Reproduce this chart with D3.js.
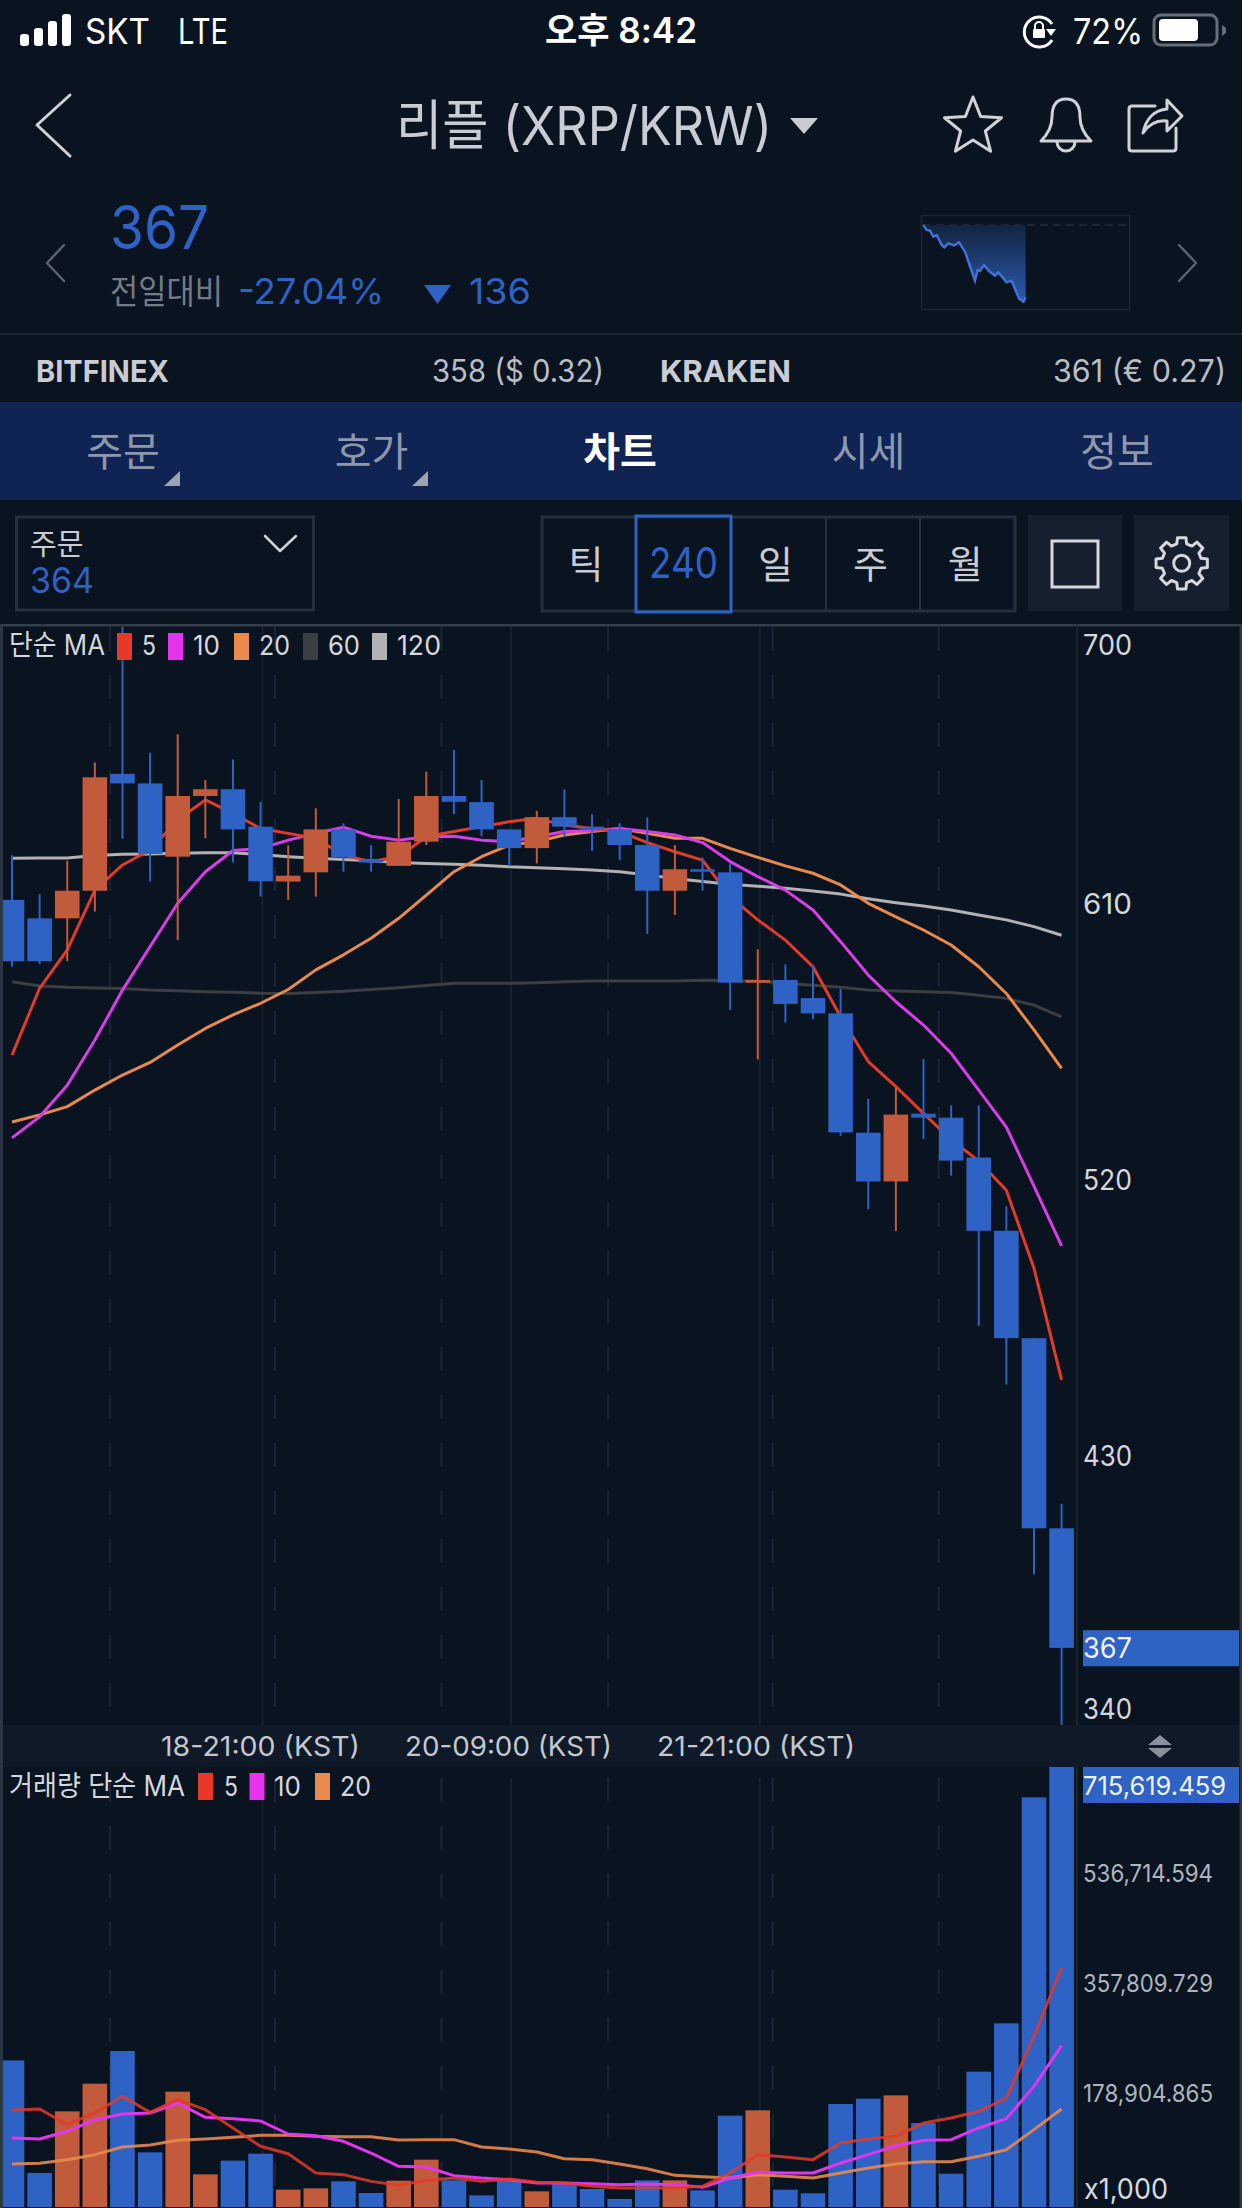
<!DOCTYPE html>
<html><head><meta charset="utf-8">
<script src="https://cdn.jsdelivr.net/npm/d3@7"></script>
<style>html,body{margin:0;padding:0;background:#0a1320}svg{display:block}
text{font-family:Inter,"Noto Sans CJK KR",sans-serif}</style></head>
<body><svg id="c" width="1242" height="2208"></svg>
<script>
// ---- data ----
const priceOpen=[611,605,605,614,652.1,649,625.1,644.9,647.1,634.9,617,620,634,624.2,622.1,630,644.9,642.9,634,627.9,638,634.9,634,628.9,614,621,620,584,584.9,579,574,535.1,519.2,541.3,540,527,503.1,468.1,406.1];
const priceHigh=[625.6,612.9,623.8,655.8,700.1,659,665,650.1,656.8,643,628.8,640.9,636,628.9,643.9,652.8,659.9,650.1,634,640,647.1,638.9,636,637.9,628.9,624.8,622.9,594.9,590,589.8,582,546.1,549.7,559.1,544,544,511.1,468.1,414.1];
const priceLow=[589.2,590.1,591,607.2,630.9,617,597.9,631.1,623.2,612.1,611,612.1,620.2,620.2,622.1,628.9,639,631.8,622.1,622.9,631.6,627,624,599.9,606.1,614,575.1,559,571,572.1,534.1,510.1,503,533,521.1,472.1,453,391.1,342];
const priceClose=[591,591,614,651,649,626,644.9,647.1,634,617.1,618.9,634,624.9,623.2,630,644.9,643,634,627.9,638,634.9,634,628.9,614,621,620.2,584,584.9,577.1,574,535.2,519.2,541,540,526,503.1,468.1,406.1,367.1];
const ma5=[560.4,582.2,594.7,614.2,622.4,627.3,637.1,643.6,639.2,634.3,632.7,631.1,625.6,623.5,625.1,631.6,633.3,634.9,636.5,637.6,635.4,634.3,633.3,629.7,626.7,624,612.1,604.5,597.9,589.2,572.9,558.3,550.1,541.4,532.8,525.9,516.3,490.9,454.5];
const ma10=[533.4,540.3,550.6,565.3,581.6,595.8,609.9,620.2,627.1,627.8,630.5,632.7,634.7,631.8,630.5,631.6,631.8,630.5,630,631.6,633.3,633.6,634.3,633.3,632.2,629.7,623.5,618.6,614.2,607.7,597.4,586.5,577.8,570.2,561,549,536.9,517.7,498.2];
const ma20=[538.6,540.9,543.6,549,553.9,558,563.7,569.1,573.5,577.3,581.8,588.2,593.1,598.5,605,612.6,620.2,625.1,628.9,630,632.2,633.3,634.3,632.7,631.1,631.1,627.8,624.9,622.1,619.7,615.9,609.9,605.5,601.2,596.3,589.2,580.5,568.6,556.1];
const ma60=[584.3,582.9,582.5,582.3,582.1,581.6,581.4,581.1,580.9,580.6,580.5,580.8,581.2,581.8,582.4,583.1,583.8,583.8,583.8,584,584.3,584.6,584.6,584.6,584.6,584.8,584.7,584.5,583.8,583.2,582.5,581.6,581.3,581.1,580.8,579.9,578.9,576.7,572.9];
const ma120=[624.6,624.7,624.7,625.5,625.9,626,626.2,626.4,626.4,625.8,625.1,624.6,624.2,623.8,623.2,622.9,622.6,622.3,621.8,621.5,621.2,620.8,620.2,619.1,618,617,616.1,615.5,614.8,613.9,612.9,611.4,610.1,609,607.7,606.1,604.5,602.3,599.5];
const volume=[238524,55294,155583,200577,253703,88904,187567,53126,75352,86736,28189,30358,41742,22768,42826,76978,43368,18974,43368,25479,39031,29273,13010,43368,43368,27105,148535,157209,28189,22226,167509,176183,181604,136609,54210,220093,298697,666241,715619];
const volMa5=[157200,159400,133900,152900,180000,154000,174600,158300,128500,98700,86700,55300,52600,41700,35200,43400,47200,41700,45500,40100,39000,33600,30900,30900,30900,33600,55300,85100,81300,77000,104100,110600,114900,136600,144700,155600,177300,277600,388700];
const volMa10=[112200,110600,123100,142000,151200,152900,169100,145800,143700,139900,118700,116000,106800,87800,66100,65100,51000,47200,44500,39000,39000,37900,36300,37400,36300,32000,47200,56400,55300,55300,71600,85100,99700,108400,109500,128500,143700,196200,262400];
const volMa20=[69900,71000,77000,85100,97600,100800,108400,110600,113300,116600,116600,114900,114400,114400,109000,109500,109500,97600,94300,89400,78600,77000,69900,62300,51500,49300,47200,52600,49900,47200,55300,63400,69900,73700,73700,82400,93200,125800,159400];
const priceTicks=[700,610,520,430,340];
const volTicks=[715619.459,536714.594,357809.729,178904.865,0];
const timeLabels=["18-21:00 (KST)","20-09:00 (KST)","21-21:00 (KST)"];
const miniHours=[0,.39,.78,1.17,1.56,2.15,2.46,2.93,3.63,4.18,4.88,6.05,6.36,6.63,7.1,7.69,8.39,8.78,9.76,10.34,11.2,11.71,11.98];
const miniPct=[0,-1.76,-2,-4.11,-3.53,-7.05,-7.88,-6.47,-7.17,-6.11,-9.41,-19.63,-15.87,-16.22,-14.11,-16.22,-17.87,-16.7,-20.22,-19.63,-25.87,-27.04,-25.51];
const solidGrid=[9.07,18.07,27.07];
const dashGrid=[3.55,9.52,15.55,21.58,27.54,33.55];
const tabs=["주문","호가","차트","시세","정보"];
const periods=["틱","240","일","주","월"];
const maLegend=[["5","#e8382a"],["10","#e533ee"],["20","#e88a4c"],["60","#3c3f42"],["120","#b2b2b2"]];

// ---- setup ----
const BLUE="#2e62c4",RED="#c25b3b",BG="#0a1320",FG="#d4d8dd",DIM="#aeb5bd";
const svg=d3.select("#c");
svg.append("rect").attr("width",1242).attr("height",2208).attr("fill",BG);
const defs=svg.append("defs");
const grad=defs.append("linearGradient").attr("id","mg").attr("x1",0).attr("x2",0).attr("y1",0).attr("y2",1);
grad.append("stop").attr("offset","0").attr("stop-color","#12233f");
grad.append("stop").attr("offset","1").attr("stop-color","#2c5bb0");
defs.append("clipPath").attr("id","cp").append("rect").attr("x",3).attr("y",627).attr("width",1073).attr("height",1098);
defs.append("clipPath").attr("id","cv").append("rect").attr("x",3).attr("y",1767).attr("width",1073).attr("height",441);
function T(g,x,base,s,size,fill,opt={}){
  const t=g.append("text").attr("x",x).attr("y",base).text(s).attr("font-size",size).attr("fill",fill)
    .attr("font-weight",opt.w||400).attr("text-anchor",opt.a||"start");
  if(opt.len)t.attr("textLength",opt.len).attr("lengthAdjust","spacingAndGlyphs");
  return t;
}
const ui=svg.append("g");
// status bar
[[20,34],[34,28],[48,21],[62,14]].forEach(b=>ui.append("rect").attr("x",b[0]).attr("y",b[1]).attr("width",9).attr("height",46-b[1]).attr("rx",3).attr("fill","#fff"));
T(ui,85,44,"SKT",36,"#fff",{len:65});
T(ui,178,44,"LTE",36,"#fff",{len:50});
T(ui,545,43,"오후 8:42",35,"#fff",{w:600,len:152});
ui.append("path").attr("d","M1052 24 A15 15 0 1 0 1052 40").attr("fill","none").attr("stroke","#fff").attr("stroke-width",3);
ui.append("path").attr("d","M1046 29 L1056 29 L1051 36 Z").attr("fill","#fff");
ui.append("rect").attr("x",1033).attr("y",29).attr("width",12).attr("height",9).attr("rx",1).attr("fill","#fff");
ui.append("path").attr("d","M1035 29 V26 A4 4 0 0 1 1043 26 V29").attr("fill","none").attr("stroke","#fff").attr("stroke-width",2);
T(ui,1073,44,"72%",36,"#fff",{len:70});
ui.append("rect").attr("x",1154).attr("y",15).attr("width",63).attr("height",30).attr("rx",7).attr("fill","none").attr("stroke","#666e78").attr("stroke-width",3);
ui.append("rect").attr("x",1159).attr("y",19).attr("width",39).attr("height",22).attr("rx",4).attr("fill","#fff");
ui.append("path").attr("d","M1222 25 L1226 28 V33 L1222 36 Z").attr("fill","#666e78");
// nav
const stroke=(d,c="#cfd3d8",w=3)=>ui.append("path").attr("d",d).attr("fill","none").attr("stroke",c).attr("stroke-width",w).attr("stroke-linejoin","round").attr("stroke-linecap","round");
stroke("M70 95 L37 125 L70 156");
T(ui,396,145,"리플 (XRP/KRW)",54,"#c9cdd3",{len:376});
ui.append("path").attr("d","M790 118 H818 L804 134 Z").attr("fill","#c9cdd3");
const star=[];for(let k=0;k<10;k++){const r=k%2?13:30,a=-Math.PI/2+k*Math.PI/5;star.push([973+r*Math.cos(a),127+r*Math.sin(a)]);}
stroke("M"+star.map(p=>p.join(",")).join("L")+"Z");
stroke("M1041 141 Q1052 130 1052 117 C1052 105 1057 99 1066 99 C1075 99 1080 105 1080 117 Q1080 130 1091 141 Z");
stroke("M1057 142 A9 9 0 0 0 1075 142");
stroke("M1155 106 H1132 Q1129 106 1129 109 V148 Q1129 151 1132 151 H1173 Q1176 151 1176 148 V128");
stroke("M1143 133 C1146 118 1155 110 1167 109 V100 L1182 116 L1167 131 V121 C1157 120 1149 124 1143 133 Z");
// price block
T(ui,110,249,"367",60,BLUE,{len:99});
stroke("M64 245 L47 263 L64 281","#59626e",2.5);
stroke("M1179 245 L1196 263 L1179 281","#59626e",2.5);
T(ui,110,304,"전일대비",34,"#727b87",{len:113});
T(ui,238,304,"-27.04%",36,BLUE,{len:146});
ui.append("path").attr("d","M424 285 H451 L437.5 304 Z").attr("fill",BLUE);
T(ui,469,304,"136",36,BLUE,{len:62});
// mini chart
ui.append("rect").attr("x",921.5).attr("y",215.5).attr("width",208).attr("height",94).attr("fill","none").attr("stroke","#1a2535").attr("stroke-width",1.5);
const mx=d3.scaleLinear().domain([0,24]).range([923.3,1128.3]);
const my=d3.scaleLinear().domain([0,-27.04]).range([225,301.7]);
ui.append("line").attr("x1",923).attr("x2",1128).attr("y1",225).attr("y2",225).attr("stroke","#222d3e").attr("stroke-width",1.5).attr("stroke-dasharray","8 5");
const mi=d3.range(miniHours.length);
ui.append("path").attr("d",d3.area().x(i=>mx(miniHours[i])).y0(225).y1(i=>my(miniPct[i]))(mi)).attr("fill","url(#mg)");
ui.append("path").attr("d",d3.line().x(i=>mx(miniHours[i])).y(i=>my(miniPct[i]))(mi)).attr("fill","none").attr("stroke","#3f74d4").attr("stroke-width",2.4);
// exchanges
ui.append("rect").attr("x",0).attr("y",333).attr("width",1242).attr("height",2).attr("fill","#1a2433");
T(ui,36,382,"BITFINEX",30,"#c9cdd3",{w:700,len:133});
T(ui,432,382,"358 ($ 0.32)",31,"#b9bec5",{len:172});
T(ui,660,382,"KRAKEN",30,"#c9cdd3",{w:700,len:131});
T(ui,1053,382,"361 (€ 0.27)",31,"#b9bec5",{len:173});
// tabs
ui.append("rect").attr("x",0).attr("y",402).attr("width",1242).attr("height",98).attr("fill","#0f2453");
tabs.forEach((t,i)=>T(ui,123+i*248.5,466,t,40,i==2?"#fff":"#8e98ab",{a:"middle",w:i==2?700:400}));
[164,412].forEach(x=>ui.append("path").attr("d",`M${x+16} 471 V486 H${x} Z`).attr("fill","#9aa3b4"));
// selectors
ui.append("rect").attr("x",16.5).attr("y",517).attr("width",297).attr("height",93).attr("fill","none").attr("stroke","#252f3e").attr("stroke-width",3);
T(ui,30,555,"주문",29,"#c9cdd3");
T(ui,30,593,"364",35,BLUE,{len:64});
stroke("M265 536 L280 551 L296 536","#cfd3d8",2.5);
ui.append("rect").attr("x",542).attr("y",517).attr("width",473).attr("height",94).attr("fill","none").attr("stroke","#252f3e").attr("stroke-width",3);
[731,826,920].forEach(x=>ui.append("line").attr("x1",x).attr("x2",x).attr("y1",517).attr("y2",611).attr("stroke","#252f3e").attr("stroke-width",2));
ui.append("rect").attr("x",636).attr("y",516).attr("width",95).attr("height",96).attr("fill","none").attr("stroke",BLUE).attr("stroke-width",3);
periods.forEach((p,i)=>{const t=T(ui,(i==1?649:586+i*94.8),578,p,i==1?42:38,i==1?BLUE:"#c9cdd3",{a:i==1?"start":"middle",len:i==1?69:0});});
ui.append("rect").attr("x",1028).attr("y",515).attr("width",94).attr("height",96).attr("fill","#161f2e");
ui.append("rect").attr("x",1134).attr("y",515).attr("width",95).attr("height",96).attr("fill","#161f2e");
ui.append("rect").attr("x",1052).attr("y",541).attr("width",46).attr("height",46).attr("fill","none").attr("stroke","#d5d8dc").attr("stroke-width",3);
const gear=[];for(let k=0;k<8;k++){const a=k*Math.PI/4-Math.PI/8;[[20,-.2],[26,-.13],[26,.13],[20,.2]].forEach((q,n)=>{const b=a+Math.PI/8+q[1]*1.25;gear.push([1181.7+q[0]*Math.cos(b),563.3+q[0]*Math.sin(b)]);});}
stroke("M"+gear.map(p=>p.join(",")).join("L")+"Z","#d5d8dc",3);
ui.append("circle").attr("cx",1181.7).attr("cy",563.3).attr("r",8).attr("fill","none").attr("stroke","#d5d8dc").attr("stroke-width",3);

// ---- chart frame ----
const x=d3.scaleLinear().domain([0,38]).range([12,1061.6]);
const yP=d3.scaleLinear().domain([700,340]).range([627,1731]);
const yV=d3.scaleLinear().domain([0,715619.459]).range([2207,1767]);
const W=24.6;
const idx=d3.range(39);
const frame=svg.append("g");
frame.append("rect").attr("x",3).attr("y",1725).attr("width",1237).attr("height",42).attr("fill","#0f1928");
function grids(y1,y2){
  solidGrid.forEach(g=>frame.append("line").attr("x1",x(g)).attr("x2",x(g)).attr("y1",y1).attr("y2",y2).attr("stroke","#172130").attr("stroke-width",2));
  dashGrid.forEach(g=>frame.append("line").attr("x1",x(g)).attr("x2",x(g)).attr("y1",y1).attr("y2",y2).attr("stroke","#1b2535").attr("stroke-width",2).attr("stroke-dasharray","24 24"));
}
grids(627,1725);grids(1778,2207);
const edge="#2c3644";
frame.append("rect").attr("x",0).attr("y",624).attr("width",1242).attr("height",2.5).attr("fill","#343d4a");
frame.append("rect").attr("x",0).attr("y",625).attr("width",3).attr("height",1583).attr("fill",edge);
frame.append("rect").attr("x",1239.5).attr("y",625).attr("width",2.5).attr("height",1583).attr("fill",edge);
frame.append("rect").attr("x",1076).attr("y",625).attr("width",2).attr("height",1100).attr("fill","#192331");
frame.append("rect").attr("x",1076).attr("y",1767).attr("width",2).attr("height",441).attr("fill","#192331");

// ---- price panel ----
const pg=svg.append("g").attr("clip-path","url(#cp)");
const pLine=d=>d3.line().x((v,i)=>x(i)).y(v=>yP(v))(d);
[[ma120,"#b2b2b2"],[ma60,"#3c3f42"],[ma20,"#e88a4c"],[ma10,"#d63fe6"],[ma5,"#df3d2a"]].forEach(s=>
  pg.append("path").attr("d",pLine(s[0])).attr("fill","none").attr("stroke",s[1]).attr("stroke-width",3).attr("stroke-linejoin","round"));
const col=i=>priceClose[i]<priceOpen[i]?BLUE:RED;
pg.selectAll("line.w").data(idx).join("line").attr("class","w").attr("x1",i=>x(i)).attr("x2",i=>x(i))
  .attr("y1",i=>yP(priceHigh[i])).attr("y2",i=>yP(priceLow[i])).attr("stroke",col).attr("stroke-width",2);
pg.selectAll("rect.b").data(idx).join("rect").attr("class","b").attr("x",i=>x(i)-W/2).attr("width",W)
  .attr("y",i=>yP(Math.max(priceOpen[i],priceClose[i]))).attr("height",i=>Math.abs(yP(priceOpen[i])-yP(priceClose[i])))
  .attr("fill",col);
// legend
function legend(g,label,lx,lw,items,base,top){
  T(g,lx,base,label,28,FG,{len:lw});
  items.forEach(it=>{
    g.append("rect").attr("x",it.sx).attr("y",top).attr("width",15).attr("height",27).attr("fill",it.c);
    T(g,it.tx,base,it.t,27,FG,{len:it.tw});
  });
}
const lg=svg.append("g");
legend(lg,"단순 MA",9,96,[[117,142,14],[168,193,27],[234,259,31],[303,328,32],[372,397,44]].map((a,i)=>({sx:a[0],tx:a[1],tw:a[2],t:maLegend[i][0],c:maLegend[i][1]})),655,633);
legend(lg,"거래량 단순 MA",9,176,[[198,224,14],[249.5,274,27],[315,340,31]].map((a,i)=>({sx:a[0],tx:a[1],tw:a[2],t:maLegend[i][0],c:maLegend[i][1]})),1796,1773);
// price axis
const axP=svg.append("g").attr("transform","translate(1083,0)").call(d3.axisRight(yP).tickValues(priceTicks).tickSize(0).tickPadding(0).tickFormat(d3.format("d")));
axP.select(".domain").remove();
axP.selectAll("text").attr("font-size",28).attr("fill",FG).attr("dy",".36em").attr("textLength",49).attr("lengthAdjust","spacingAndGlyphs")
  .style("font-family",'Inter,"Noto Sans CJK KR",sans-serif')
  .attr("transform",d=>d===700?"translate(0,17)":d===340?"translate(0,-23)":null);
svg.append("rect").attr("x",1083).attr("y",yP(367)-18).attr("width",156).attr("height",36).attr("fill",BLUE);
T(svg,1083,yP(367)+10,"367",28,"#eef1f5",{len:49});
// time strip
[161,405,657].forEach((tx,i)=>T(svg,tx,1756,timeLabels[i],27,"#c3c8cf",{len:[199,207,198][i]}));
svg.append("path").attr("d","M1148 1745 L1160 1735 L1172 1745 Z").attr("fill","#8a929c");
svg.append("path").attr("d","M1148 1748 L1172 1748 L1160 1758 Z").attr("fill","#8a929c");

// ---- volume panel ----
const vg=svg.append("g").attr("clip-path","url(#cv)");
vg.selectAll("rect").data(idx).join("rect").attr("x",i=>x(i)-W/2).attr("width",W)
  .attr("y",i=>yV(volume[i])).attr("height",i=>yV(0)-yV(volume[i])).attr("fill",col);
const vLine=d=>d3.line().x((v,i)=>x(i)).y(v=>yV(v))(d);
[[volMa20,"#e88a4c",.9],[volMa10,"#e036ee",1],[volMa5,"#e33a2a",.85]].forEach(s=>
  vg.append("path").attr("d",vLine(s[0])).attr("fill","none").attr("stroke",s[1]).attr("stroke-width",3).attr("opacity",s[2]).attr("stroke-linejoin","round"));
svg.append("rect").attr("x",1083).attr("y",1767).attr("width",156).attr("height",36).attr("fill",BLUE);
const fmtV=d=>d===0?"x1,000":d3.format(",.3f")(d);
const axV=svg.append("g").attr("transform","translate(1083,0)").call(d3.axisRight(yV).tickValues(volTicks).tickSize(0).tickPadding(0).tickFormat(fmtV));
axV.select(".domain").remove();
axV.selectAll("text").attr("dy",".36em").style("font-family",'Inter,"Noto Sans CJK KR",sans-serif')
  .attr("lengthAdjust","spacingAndGlyphs")
  .attr("font-size",d=>d===0?29:d===715619.459?26:24)
  .attr("textLength",d=>d===0?84:d===715619.459?143:130)
  .attr("fill",d=>d===715619.459?"#eef1f5":d===0?FG:DIM)
  .attr("transform",d=>d===0?"translate(1,-19)":d===715619.459?"translate(0,18)":"translate(0,-4)");
</script></body></html>
